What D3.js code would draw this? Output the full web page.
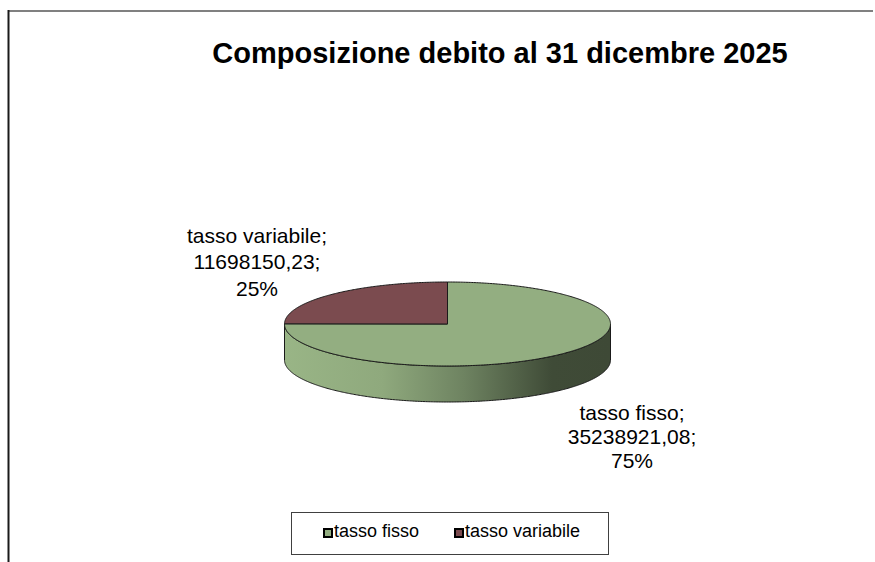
<!DOCTYPE html>
<html><head><meta charset="utf-8">
<script src="https://cdn.jsdelivr.net/npm/d3@7"></script>
<style>body{margin:0;background:#fff} svg{display:block} text{font-family:Arial,"Liberation Sans",sans-serif;fill:#000}</style>
</head><body><svg id="c" width="875" height="562"></svg>
<script>
// ---- data ----
const title = "Composizione debito al 31 dicembre 2025";
const categories = ["tasso fisso", "tasso variabile"];
const values = [35238921.08, 11698150.23];
const colors = ["#93ae81", "#7b4b4f"];

// ---- layout ----
const W = 875, H = 562;
const geo = {cx: 447.5, cy: 324, rx: 163, ry: 42, depth: 36};
const labelLayout = [
  {x: 632, y: 420, lh: 24},    // tasso fisso
  {x: 257, y: 243, lh: 26.3}   // tasso variabile
];

const svg = d3.select("#c");
const defs = svg.append("defs");

// frame
svg.append("line").attr("x1", 8).attr("x2", 873).attr("y1", 11).attr("y2", 11)
  .attr("stroke", "#808080").attr("stroke-width", 2);
svg.append("line").attr("x1", 8.5).attr("x2", 8.5).attr("y1", 10).attr("y2", H)
  .attr("stroke", "#1a1a1a").attr("stroke-width", 2);

// title
svg.append("text").attr("x", 500).attr("y", 63).attr("text-anchor", "middle")
  .attr("font-size", 29).attr("font-weight", "bold").text(title);

// pie
const pie = d3.pie().sort(null).startAngle(0).endAngle(2 * Math.PI);
const arcs = pie(values);
const total = d3.sum(values);
const {cx, cy, rx, ry, depth} = geo;
const pt = (a, dy = 0) => [cx + rx * Math.sin(a), cy - ry * Math.cos(a) + dy];
const line = d3.line();
function arcPts(a0, a1, dy = 0) {
  const n = Math.max(2, Math.ceil(Math.abs(a1 - a0) / 0.01));
  return d3.range(n + 1).map(i => pt(a0 + (a1 - a0) * i / n, dy));
}

// gradients for sides
arcs.forEach((d, i) => {
  const g = defs.append("linearGradient").attr("id", "side" + i)
    .attr("gradientUnits", "userSpaceOnUse")
    .attr("x1", cx - rx).attr("x2", cx + rx).attr("y1", 0).attr("y2", 0);
  const base = d3.rgb(colors[i]);
  [[0, 1.04], [0.3, 0.97], [0.55, 0.75], [0.82, 0.43], [1, 0.42]].forEach(([o, k]) => {
    const c = d3.rgb(Math.min(255, base.r * k), Math.min(255, base.g * k), Math.min(255, base.b * k));
    g.append("stop").attr("offset", o).attr("stop-color", c.formatHex());
  });
});

// sides (front half only: angles PI/2 .. 3PI/2)
arcs.forEach((d, i) => {
  const a0 = Math.max(d.startAngle, Math.PI / 2), a1 = Math.min(d.endAngle, 3 * Math.PI / 2);
  if (a1 <= a0) return;
  const pts = arcPts(a0, a1).concat(arcPts(a1, a0, depth));
  svg.append("path").attr("d", line(pts) + "Z")
    .attr("fill", `url(#side${i})`).attr("stroke", "#1a1a1a").attr("stroke-width", 1)
    .attr("stroke-linejoin", "round");
});

// tops
arcs.forEach((d, i) => {
  const pts = [[cx, cy]].concat(arcPts(d.startAngle, d.endAngle));
  svg.append("path").attr("d", line(pts) + "Z")
    .attr("fill", colors[i]).attr("stroke", "#1a1a1a").attr("stroke-width", 1)
    .attr("stroke-linejoin", "round");
});

// data labels
const numFmt = d3.formatLocale({decimal: ",", thousands: "", grouping: [3], currency: ["", ""]}).format(".2f");
const pctFmt = d3.format(".0%");
arcs.forEach((d, i) => {
  const L = labelLayout[i];
  const lines = [categories[i] + ";", numFmt(values[i]) + ";", pctFmt(values[i] / total)];
  const t = svg.append("text").attr("text-anchor", "middle").attr("font-size", 21);
  lines.forEach((s, j) => t.append("tspan").attr("x", L.x).attr("y", L.y + j * L.lh).text(s));
});

// legend
const lg = svg.append("g");
lg.append("rect").attr("x", 291.5).attr("y", 512.5).attr("width", 317).attr("height", 42)
  .attr("fill", "#fff").attr("stroke", "#404040").attr("stroke-width", 1);
const itemX = [324, 455];
categories.forEach((c, i) => {
  lg.append("rect").attr("x", itemX[i]).attr("y", 529).attr("width", 8).attr("height", 8)
    .attr("fill", colors[i]).attr("stroke", "#000").attr("stroke-width", 2);
  lg.append("text").attr("x", itemX[i] + 10).attr("y", 537).attr("font-size", 18).text(c);
});
</script></body></html>
